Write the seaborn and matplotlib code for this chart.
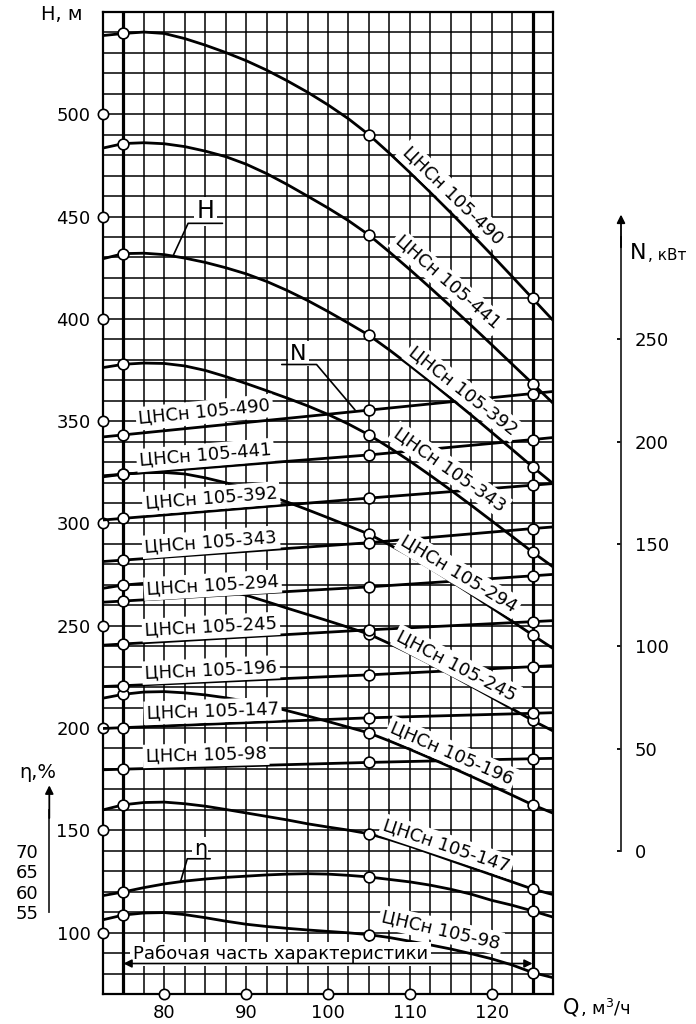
"""Pump characteristic chart for the ЦНСн 105 series."""

import matplotlib

matplotlib.use("Agg")
import matplotlib.pyplot as plt
import numpy as np
import pandas as pd
import seaborn as sns

# ---- data -----------------------------------------------------------------
Q = [72.5, 75, 77.5, 80, 82.5, 85, 87.5, 90, 92.5, 95, 97.5, 100, 102.5, 105,
     107.5, 110, 112.5, 115, 117.5, 120, 122.5, 125, 127.5]
PUMPS = ["490", "441", "392", "343", "294", "245", "196", "147", "98"]

HEAD_490 = [538.5, 539.5, 540.2, 539.5, 537.0, 533.8, 530.2, 526.2, 521.6, 516.4, 510.8, 504.6,
            497.8, 490.0, 481.0, 471.6, 461.9, 451.9, 441.7, 431.3, 420.7, 410.0, 399.3]
HEAD_441 = [483.5, 485.7, 486.1, 485.6, 484.2, 482.0, 479.3, 475.6, 471.0, 465.7, 460.0, 454.2,
            448.0, 441.0, 432.7, 424.1, 415.2, 406.1, 396.8, 387.4, 377.9, 368.4, 358.8]
HEAD_392 = [429.4, 431.9, 432.1, 431.4, 429.7, 427.6, 425.0, 422.0, 418.3, 413.9, 409.0, 403.6,
            397.9, 392.0, 384.8, 377.2, 369.3, 361.2, 353.0, 344.6, 336.2, 327.7, 319.5]
HEAD_343 = [376.2, 377.8, 378.4, 378.2, 377.0, 374.8, 371.8, 368.4, 364.9, 361.3, 357.5, 353.3,
            348.6, 343.3, 337.1, 330.5, 323.5, 316.3, 308.9, 301.3, 293.7, 286.0, 278.8]
HEAD_294 = [322.8, 324.1, 324.8, 324.9, 324.2, 322.3, 319.9, 317.1, 314.0, 310.5, 306.7, 302.8,
            298.8, 294.8, 289.6, 284.0, 278.0, 271.8, 265.4, 258.8, 252.2, 245.5, 238.9]
HEAD_245 = [268.3, 269.9, 270.7, 270.8, 270.2, 268.9, 267.2, 264.9, 261.8, 258.6, 255.5, 252.4,
            249.2, 245.9, 241.3, 236.4, 231.3, 226.0, 220.5, 215.0, 209.4, 203.7, 198.6]
HEAD_196 = [214.6, 216.5, 217.6, 217.8, 217.2, 216.2, 214.8, 213.1, 211.0, 208.5, 205.9, 203.2,
            200.4, 197.6, 193.7, 189.6, 185.3, 180.9, 176.4, 171.8, 167.2, 162.5, 158.4]
HEAD_147 = [160.0, 162.5, 163.6, 163.8, 163.0, 161.8, 160.2, 158.5, 156.8, 155.1, 153.2, 151.6,
            150.1, 148.3, 145.5, 142.3, 138.8, 135.3, 131.8, 128.3, 124.8, 121.3, 118.6]
HEAD_98 = [106.3, 108.6, 109.6, 109.8, 108.8, 107.3, 105.6, 104.1, 103.0, 102.1, 101.3, 100.6,
           99.9, 99.0, 97.6, 95.8, 94.0, 92.0, 89.7, 87.2, 84.2, 80.5, 78.0]

Q_POWER = [72.5, 75, 105, 125, 127.5]
POWER_490 = [202.3, 203.3, 215.4, 223.5, 224.5]
POWER_441 = [183.3, 184.1, 193.5, 201.0, 202.0]
POWER_392 = [161.7, 162.5, 172.4, 178.7, 179.5]
POWER_343 = [141.4, 142.1, 150.6, 157.5, 158.3]
POWER_294 = [121.5, 122.1, 129.0, 134.4, 135.1]
POWER_245 = [100.5, 101.1, 108.0, 112.0, 112.5]
POWER_196 = [80.3, 80.7, 86.0, 90.0, 90.5]
POWER_147 = [59.8, 60.2, 65.0, 67.2, 67.5]
POWER_98 = [39.6, 39.9, 43.2, 45.0, 45.2]

ETA = [59.05, 59.95, 61.0, 61.9, 62.6, 63.1, 63.5, 63.8, 64.1, 64.3, 64.4, 64.3,
       64.0, 63.6, 63.0, 62.4, 61.6, 60.6, 59.4, 57.9, 56.7, 55.3, 53.8]

MARKED_Q = [75, 105, 125]
H_TICKS = [100, 150, 200, 250, 300, 350, 400, 450, 500]
Q_TICKS = [80, 90, 100, 110, 120]
N_TICKS = [0, 50, 100, 150, 200, 250]
ETA_TICKS = [55, 60, 65, 70]

HEADS = [HEAD_490, HEAD_441, HEAD_392, HEAD_343, HEAD_294, HEAD_245, HEAD_196, HEAD_147, HEAD_98]
POWERS = [POWER_490, POWER_441, POWER_392, POWER_343, POWER_294, POWER_245, POWER_196, POWER_147, POWER_98]

# label placement (Q, H, rotation) in the head scale
HEAD_LABELS = {
    "490": (115.2, 460.4, -44), "441": (114.6, 417.9, -41), "392": (116.5, 364.6, -38),
    "343": (114.9, 326.2, -35), "294": (116.0, 275.4, -31), "245": (115.7, 230.4, -27.5),
    "196": (115.1, 187.8, -23.5), "147": (114.5, 142.4, -18.5), "98": (113.8, 101.2, -13),
}
POWER_LABELS = {
    "490": (84.9, 354.4, 5.8), "441": (85.0, 333.4, 4.8), "392": (85.7, 312.4, 4.6),
    "343": (85.7, 290.9, 4.4), "294": (85.9, 269.9, 3.5), "245": (85.7, 249.4, 3.1),
    "196": (85.7, 228.4, 2.7), "147": (85.9, 208.4, 2.0), "98": (85.1, 186.9, 1.5),
}

FS = 13
W, H = 696, 1024
LW = 2.0
BOX = dict(facecolor="white", edgecolor="none", pad=2)


def _px(x, y):
    return x / W, 1 - y / H


sns.set_style("white")
plt.rcParams["font.family"] = ["DejaVu Sans"]
plt.rcParams["text.color"] = "black"
plt.rcParams["xtick.color"] = "black"
plt.rcParams["ytick.color"] = "black"
plt.rcParams["axes.labelcolor"] = "black"

fig = plt.figure(figsize=(6.96, 10.24), dpi=100)
rect = [103 / W, 30 / H, 450 / W, 982 / H]
ax = fig.add_axes(rect)

ax.set_xlim(72.5, 127.5)
ax.set_ylim(70, 550)

# grid
ax.set_xticks(Q_TICKS)
ax.set_xticks(np.arange(72.5, 127.6, 2.5), minor=True)
ax.set_yticks(H_TICKS)
ax.set_yticks(np.arange(70, 551, 10), minor=True)
ax.set_axisbelow(True)
ax.grid(which="both", color="black", linewidth=1.1)
ax.tick_params(which="both", length=0)
ax.tick_params(axis="y", pad=9, labelsize=FS)
ax.tick_params(axis="x", pad=7, labelsize=FS)
for s in ax.spines.values():
    s.set_linewidth(1.6)
    s.set_color("black")
for q in (75, 125):
    ax.axvline(q, color="black", linewidth=2.3, zorder=1)

# tick circles on the axes
ax.scatter([72.5] * len(H_TICKS), H_TICKS, s=55, facecolor="white", edgecolor="black",
           linewidth=1.2, zorder=6, clip_on=False)
ax.scatter(Q_TICKS, [70] * len(Q_TICKS), s=55, facecolor="white", edgecolor="black",
           linewidth=1.2, zorder=6, clip_on=False)

# head curves
head_df = pd.DataFrame({
    "Q": np.tile(Q, len(PUMPS)),
    "H": np.concatenate(HEADS),
    "pump": np.repeat(PUMPS, len(Q)),
})
sns.lineplot(data=head_df, x="Q", y="H", units="pump", estimator=None, color="black",
             linewidth=LW, ax=ax, zorder=2)
hm = head_df[head_df["Q"].isin(MARKED_Q)]
sns.scatterplot(data=hm, x="Q", y="H", s=60, color="white", edgecolor="black",
                linewidth=1.2, ax=ax, zorder=5, clip_on=False)

# working range
ax.text(94.2, 89.5, "Рабочая часть характеристики", fontsize=FS, ha="center", va="center",
        zorder=4, bbox=BOX)
ax.annotate("", xy=(75, 84.9), xytext=(125, 84.9),
            arrowprops=dict(arrowstyle="<|-|>", color="black", lw=1.2, mutation_scale=12,
                            shrinkA=0, shrinkB=0), zorder=4)
ax.set_xlabel("")
ax.set_ylabel("")

# power axis (right)
ax_n = fig.add_axes(rect, sharex=ax)
ax_n.patch.set_visible(False)
ax_n.set_ylim(-70, 410)
for side in ("top", "bottom", "left"):
    ax_n.spines[side].set_visible(False)
n_x = (621 - 103) / 450
ax_n.spines["right"].set_position(("axes", n_x))
ax_n.spines["right"].set_bounds(0, 300)
ax_n.spines["right"].set_linewidth(1.3)
ax_n.yaxis.tick_right()
ax_n.set_yticks(N_TICKS)
ax_n.tick_params(axis="y", direction="in", length=3, width=1.3, pad=10, labelsize=FS)
ax_n.xaxis.set_visible(False)
ax_n.annotate("", xy=(n_x, 311), xytext=(n_x, 295),
              xycoords=ax_n.get_yaxis_transform(), textcoords=ax_n.get_yaxis_transform(),
              arrowprops=dict(arrowstyle="-|>", color="black", lw=1.3, mutation_scale=12,
                              shrinkA=0, shrinkB=0), annotation_clip=False)

power_df = pd.DataFrame({
    "Q": np.tile(Q_POWER, len(PUMPS)),
    "N": np.concatenate(POWERS),
    "pump": np.repeat(PUMPS, len(Q_POWER)),
})
sns.lineplot(data=power_df, x="Q", y="N", units="pump", estimator=None, color="black",
             linewidth=LW, ax=ax_n, zorder=2)
pm = power_df[power_df["Q"].isin(MARKED_Q)]
sns.scatterplot(data=pm, x="Q", y="N", s=60, color="white", edgecolor="black",
                linewidth=1.2, ax=ax_n, zorder=5, clip_on=False)
ax_n.set_ylabel("")
ax_n.set_xlabel("")

# efficiency axis (left)
ax_e = fig.add_axes(rect, sharex=ax)
ax_e.patch.set_visible(False)
ax_e.set_ylim(35, 275)
for side in ("top", "bottom", "right"):
    ax_e.spines[side].set_visible(False)
eta_x = (49.3 - 103) / 450
ax_e.spines["left"].set_position(("axes", eta_x))
ax_e.spines["left"].set_bounds(55, 80)
ax_e.spines["left"].set_linewidth(1.3)
ax_e.set_yticks(ETA_TICKS)
ax_e.tick_params(axis="y", direction="inout", length=6, width=1.3, pad=5, labelsize=FS)
ax_e.xaxis.set_visible(False)
ax_e.annotate("", xy=(eta_x, 86), xytext=(eta_x, 78),
              xycoords=ax_e.get_yaxis_transform(), textcoords=ax_e.get_yaxis_transform(),
              arrowprops=dict(arrowstyle="-|>", color="black", lw=1.3, mutation_scale=12,
                              shrinkA=0, shrinkB=0), annotation_clip=False)

eta_df = pd.DataFrame({"Q": Q, "eta": ETA})
sns.lineplot(data=eta_df, x="Q", y="eta", color="black", linewidth=LW, ax=ax_e, zorder=2)
em = eta_df[eta_df["Q"].isin(MARKED_Q)]
sns.scatterplot(data=em, x="Q", y="eta", s=60, color="white", edgecolor="black",
                linewidth=1.2, ax=ax_e, zorder=5, clip_on=False)
ax_e.set_ylabel("")
ax_e.set_xlabel("")

# curve labels go on the top axes (head scale) so their boxes hide lines behind
tr = ax.transData
for pump, (qx, hy, rot) in HEAD_LABELS.items():
    ax_e.text(qx, hy, f"ЦНСн 105-{pump}", fontsize=FS, rotation=rot, ha="center",
              va="center", rotation_mode="anchor", zorder=8, transform=tr, bbox=BOX)
for pump, (qx, hy, rot) in POWER_LABELS.items():
    ax_e.text(qx, hy, f"ЦНСн 105-{pump}", fontsize=FS, rotation=rot, ha="center",
              va="center", rotation_mode="anchor", zorder=8, transform=tr, bbox=BOX)

# leaders for H, N, eta
ax_e.text(85.0, 452.5, "H", fontsize=17, ha="center", va="center", zorder=8,
          transform=tr, bbox=BOX)
ax_e.plot([87.1, 82.9, 81.1], [446.7, 446.7, 431.1], color="black", linewidth=1.2,
          zorder=8, transform=tr)
ax_e.text(96.4, 383.0, "N", fontsize=16, ha="center", va="center", zorder=8,
          transform=tr, bbox=BOX)
ax_e.plot([94.35, 98.6, 103.3], [377.7, 377.7, 355.5], color="black", linewidth=1.2,
          zorder=8, transform=tr)
ax_e.text(84.4, 141.0, "η", fontsize=15, ha="center", va="center", zorder=8,
          transform=tr, bbox=dict(facecolor="white", edgecolor="none", pad=1))
ax_e.plot([85.6, 82.8, 81.95], [136.1, 136.1, 124.6], color="black", linewidth=1.2,
          zorder=8, transform=tr)

# axis titles
fig.text(*_px(41, 14), "H, м", fontsize=14, ha="left", va="center")
fig.text(*_px(563, 1008), "Q", fontsize=15, ha="left", va="center")
fig.text(*_px(580, 1008), ", м$^3$/ч", fontsize=13, ha="left", va="center")
fig.text(*_px(630, 253), "N", fontsize=16, ha="left", va="center")
fig.text(*_px(648, 256), ", кВт", fontsize=11, ha="left", va="center")
fig.text(*_px(38, 773), "η,%", fontsize=14, ha="center", va="center")

fig.savefig("out.png", dpi=100)
